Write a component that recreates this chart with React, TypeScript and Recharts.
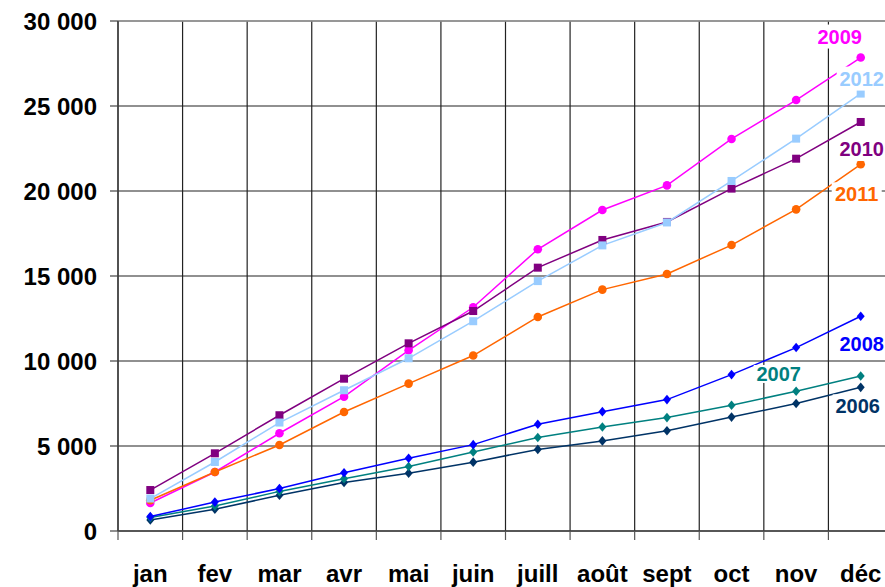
import React from 'react';
import { LineChart, Line, XAxis, YAxis, CartesianGrid, LabelList, ReferenceLine } from 'recharts';

const months = ['jan', 'fev', 'mar', 'avr', 'mai', 'juin', 'juill', 'août', 'sept', 'oct', 'nov', 'déc'];
const y2006 = [650, 1280, 2100, 2850, 3400, 4050, 4800, 5300, 5900, 6700, 7500, 8450];
const y2007 = [800, 1470, 2330, 3080, 3790, 4650, 5500, 6120, 6670, 7400, 8220, 9120];
const y2008 = [850, 1700, 2500, 3430, 4280, 5080, 6280, 7020, 7730, 9200, 10790, 12630];
const y2009 = [1650, 3470, 5750, 7900, 10630, 13160, 16570, 18880, 20330, 23060, 25350, 27850];
const y2010 = [2410, 4570, 6810, 8960, 11040, 12940, 15490, 17120, 18180, 20140, 21900, 24060];
const y2011 = [1810, 3470, 5060, 7000, 8670, 10320, 12590, 14200, 15120, 16820, 18920, 21570];
const y2012 = [1910, 4060, 6380, 8280, 10160, 12340, 14700, 16800, 18150, 20590, 23080, 25730];
const yTicks = [0, 5000, 10000, 15000, 20000, 25000, 30000];

const FONT = "'Liberation Sans', Arial, Helvetica, sans-serif";
const CHART_W = 900;
const CHART_H = 587;
const MARGIN = { top: 21, right: 7, bottom: 10, left: 0 };
const Y_AXIS_W = 118;
const PLOT_W = CHART_W - MARGIN.left - MARGIN.right - Y_AXIS_W;
const HALF_BAND = PLOT_W / months.length / 2;
const X_TICK_SIZE = 9;
const X_TICK_MARGIN = 2;

const series = [
  { key: '2006', values: y2006, color: '#003366', shape: 'diamond', dx: -3, dy: 19, boxH: 24 },
  { key: '2007', values: y2007, color: '#008080', shape: 'diamond', dx: -82, dy: -2, boxH: 18 },
  { key: '2008', values: y2008, color: '#0000FF', shape: 'diamond', dx: 1, dy: 28, boxH: 24 },
  { key: '2009', values: y2009, color: '#FF00FF', shape: 'circle', dx: -21, dy: -21, boxH: 24 },
  { key: '2010', values: y2010, color: '#800080', shape: 'square', dx: 1, dy: 27, boxH: 24 },
  { key: '2011', values: y2011, color: '#FF6600', shape: 'circle', dx: -4, dy: 30, boxH: 24 },
  { key: '2012', values: y2012, color: '#99CCFF', shape: 'square', dx: 1, dy: -15, boxH: 24 },
];

const data = months.map((m, i) => {
  const row: any = { month: m };
  series.forEach((s) => {
    row['v' + s.key] = s.values[i];
    row['l' + s.key] = i === months.length - 1 ? s.key : null;
  });
  return row;
});

const fmt = (v: number) => String(v).replace(/\B(?=(\d{3})+(?!\d))/g, ' ');

const makeDot = (shape: string, color: string) => (props: any) => {
  const { cx, cy, index } = props;
  if (cx == null || cy == null) return <g key={'d' + index} />;
  if (shape === 'circle') return <circle key={'d' + index} cx={cx} cy={cy} r={4.3} fill={color} />;
  if (shape === 'square') return <rect key={'d' + index} x={cx - 4} y={cy - 4} width={8} height={8} fill={color} />;
  return (
    <path
      key={'d' + index}
      d={`M${cx},${cy - 4.8}L${cx + 4},${cy}L${cx},${cy + 4.8}L${cx - 4},${cy}Z`}
      fill={color}
    />
  );
};

const makeLabel = (s: any) => (props: any) => {
  const { x, y, value } = props;
  if (value == null || x == null || y == null) return null;
  const cx = Number(x) + s.dx;
  const cy = Number(y) + s.dy;
  return (
    <g key={'lbl' + s.key}>
      <rect x={cx - 25} y={cy - s.boxH / 2} width={50} height={s.boxH} fill="#ffffff" />
      <text
        x={cx}
        y={cy}
        textAnchor="middle"
        dominantBaseline="central"
        fill={s.color}
        fontWeight="bold"
        fontSize={20}
        fontFamily={FONT}
      >
        {value}
      </text>
    </g>
  );
};

const XTick = (props: any) => {
  const { x, y, payload } = props;
  const axisY = y - X_TICK_SIZE - X_TICK_MARGIN;
  return (
    <g>
      <line x1={x - HALF_BAND} x2={x - HALF_BAND} y1={axisY} y2={axisY + X_TICK_SIZE} stroke="#555" strokeWidth={1.2} />
      <text x={x} y={axisY + 51} textAnchor="middle" fontWeight="bold" fontSize={24} fontFamily={FONT} fill="#000">
        {payload.value}
      </text>
    </g>
  );
};

const verticalGen = (args: any) => {
  const off = args && args.offset;
  const left = off ? off.left : MARGIN.left + Y_AXIS_W;
  const width = off ? off.width : PLOT_W;
  return months.map((_, i) => left + (i * width) / months.length);
};

export default function App() {
  return (
    <div
      style={{
        position: 'absolute',
        left: 0,
        top: 0,
        width: 885,
        height: 587,
        overflow: 'hidden',
        background: '#ffffff',
      }}
    >
      <LineChart width={CHART_W} height={CHART_H} data={data} margin={MARGIN}>
        <CartesianGrid
          horizontal={true}
          vertical={true}
          stroke="#222"
          strokeWidth={1.2}
          verticalCoordinatesGenerator={verticalGen}
        />
        <XAxis
          dataKey="month"
          height={46}
          padding={{ left: HALF_BAND, right: HALF_BAND }}
          tickLine={false}
          tickSize={X_TICK_SIZE}
          tickMargin={X_TICK_MARGIN}
          axisLine={{ stroke: '#444', strokeWidth: 1.5 }}
          tick={<XTick />}
          interval={0}
        />
        <YAxis
          width={Y_AXIS_W}
          domain={[0, 30000]}
          ticks={yTicks}
          tickFormatter={fmt}
          tickSize={8}
          tickMargin={13}
          axisLine={{ stroke: '#444', strokeWidth: 1.5 }}
          tickLine={{ stroke: '#444', strokeWidth: 1.2 }}
          tick={{ fontSize: 24, fontWeight: 'bold', fontFamily: FONT, fill: '#000' }}
          interval={0}
        />
        <ReferenceLine y={30000} stroke="#9a9a9a" strokeWidth={1.5} />
        {series.map((s) => (
          <Line
            key={s.key}
            type="linear"
            dataKey={'v' + s.key}
            stroke={s.color}
            strokeWidth={1.5}
            dot={makeDot(s.shape, s.color)}
            activeDot={false}
            isAnimationActive={false}
          >
            <LabelList dataKey={'l' + s.key} content={makeLabel(s)} />
          </Line>
        ))}
      </LineChart>
    </div>
  );
}
